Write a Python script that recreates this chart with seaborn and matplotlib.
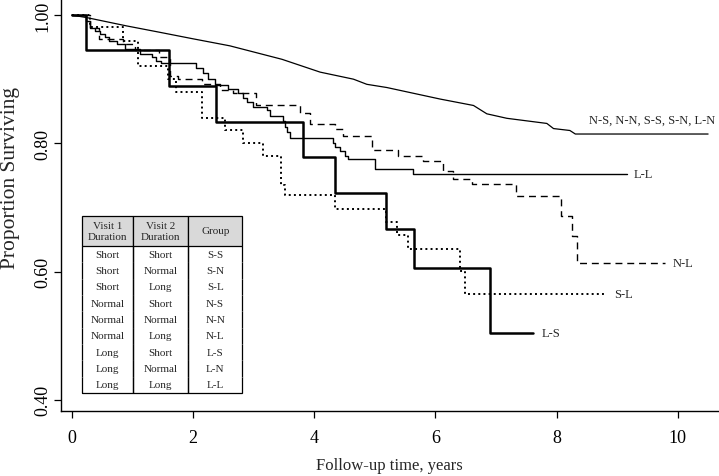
import matplotlib
matplotlib.use("Agg")
import matplotlib.pyplot as plt
import pandas as pd
import seaborn as sns

# Kaplan-Meier style survival curves
# (time in years, proportion surviving after the step at that time)
ref_t = [0, 0.25, 0.91, 1.46, 2.0, 2.61, 3.47, 4.10, 4.65, 4.87, 5.2, 6.08,
         6.63, 6.85, 7.18, 7.51, 7.84, 7.95, 8.22, 8.31, 10.5]
ref_v = [1.0, 0.996, 0.983, 0.973, 0.963, 0.952, 0.931, 0.911, 0.900, 0.892,
         0.887, 0.869, 0.859, 0.846, 0.839, 0.835, 0.831, 0.823, 0.820,
         0.8145, 0.8145]

ll_t = [0, 0.24, 0.30, 0.38, 0.47, 0.55, 0.62, 0.75, 0.88, 1.13, 1.32, 1.40,
        1.48, 2.06, 2.17, 2.25, 2.36, 2.58, 2.75, 2.83, 2.89, 3.0, 3.22,
        3.27, 3.49, 3.52, 3.55, 3.60, 4.32, 4.35, 4.43, 4.51, 4.56, 5.0,
        5.63, 9.16]
ll_v = [1.0, 0.99, 0.98, 0.975, 0.97, 0.965, 0.96, 0.955, 0.947, 0.939,
        0.934, 0.929, 0.926, 0.918, 0.91, 0.90, 0.891, 0.885, 0.879, 0.871,
        0.864, 0.857, 0.852, 0.843, 0.835, 0.825, 0.817, 0.809, 0.801,
        0.795, 0.788, 0.780, 0.776, 0.760, 0.752, 0.752]

nl_t = [0, 0.30, 0.45, 0.85, 1.05, 1.45, 1.62, 1.75, 2.15, 2.45, 2.67, 3.05,
        3.77, 3.93, 4.35, 4.48, 4.95, 5.39, 5.80, 6.13, 6.30, 6.60, 7.33,
        8.08, 8.26, 8.33, 9.79]
nl_v = [1.0, 0.98, 0.963, 0.955, 0.945, 0.935, 0.905, 0.90, 0.892, 0.883,
        0.879, 0.859, 0.848, 0.830, 0.822, 0.812, 0.789, 0.781, 0.773,
        0.757, 0.744, 0.737, 0.718, 0.687, 0.656, 0.614, 0.614]

sl_t = [0, 0.30, 0.84, 1.10, 1.59, 1.73, 2.15, 2.53, 2.83, 3.16, 3.45, 3.52,
        4.35, 5.19, 5.37, 5.55, 6.41, 6.49, 8.8]
sl_v = [1.0, 0.981, 0.96, 0.921, 0.90, 0.88, 0.84, 0.821, 0.80, 0.78, 0.735,
        0.719, 0.698, 0.678, 0.657, 0.635, 0.601, 0.565, 0.565]

ls_t = [0, 0.236, 1.60, 2.38, 3.82, 4.35, 5.19, 5.65, 6.90, 7.61]
ls_v = [1.0, 0.945, 0.889, 0.834, 0.778, 0.7225, 0.666, 0.606, 0.505, 0.505]

# end labels: (text, x, y)
end_labels = [("N-S, N-N, S-S, S-N, L-N", 8.54, 0.836),
              ("L-L", 9.28, 0.752),
              ("N-L", 9.91, 0.614),
              ("S-L", 8.95, 0.565),
              ("L-S", 7.76, 0.505)]

# group legend table
visit1 = ["Short", "Short", "Short", "Normal", "Normal", "Normal", "Long", "Long", "Long"]
visit2 = ["Short", "Normal", "Long", "Short", "Normal", "Long", "Short", "Normal", "Long"]
groups = ["S-S", "S-N", "S-L", "N-S", "N-N", "N-L", "L-S", "L-N", "L-L"]
header = ["Visit 1\nDuration", "Visit 2\nDuration", "Group"]

sns.set_style("ticks")
plt.rcParams['font.family'] = ['Liberation Serif', 'DejaVu Serif']

fig = plt.figure(figsize=(7.19, 4.77), dpi=100)
ax = fig.add_axes([0.0844, 0.1363, 0.9156, 0.8637])

sns.lineplot(x=ref_t, y=ref_v, color='black', lw=0.9, ax=ax, estimator=None)
sns.lineplot(x=ll_t, y=ll_v, color='black', lw=1.0, drawstyle='steps-post',
             ax=ax, estimator=None)
sns.lineplot(x=nl_t, y=nl_v, color='black', lw=1.0, drawstyle='steps-post',
             linestyle=(0, (5, 3.5)), ax=ax, estimator=None)
sns.lineplot(x=sl_t, y=sl_v, color='black', lw=1.4, drawstyle='steps-post',
             linestyle=':', ax=ax, estimator=None)
sns.lineplot(x=ls_t, y=ls_v, color='black', lw=1.8, drawstyle='steps-post',
             ax=ax, estimator=None)

for txt, x, y in end_labels:
    ax.text(x, y, txt, ha='left', va='center', fontsize=9)

ax.set_xlim(-0.18, 10.68)
ax.set_ylim(0.3827, 1.025)
ax.set_xticks([0, 2, 4, 6, 8, 10])
ax.set_yticks([0.4, 0.6, 0.8, 1.0])
ax.set_yticklabels(['0.40', '0.60', '0.80', '1.00'], rotation=90, va='center')
ax.tick_params(axis='both', direction='out', length=5, width=0.9,
               labelsize=13, colors='black')
ax.tick_params(axis='y', pad=2)
ax.tick_params(axis='x', pad=8)
ax.set_xlabel('Follow-up time, years', fontsize=12, labelpad=8)
ax.set_ylabel('Proportion Surviving', fontsize=15.5)
ax.yaxis.set_label_coords(-0.0615, 0.567)
for s in ['top', 'right']:
    ax.spines[s].set_visible(False)
for s in ['left', 'bottom']:
    ax.spines[s].set_linewidth(1.0)
    ax.spines[s].set_color('black')

rows = [[a, b, g] for a, b, g in zip(visit1, visit2, groups)]
tbl = ax.table(cellText=rows, colLabels=header, colWidths=[0.32, 0.345, 0.335],
               cellLoc='center', bbox=[0.0324, 0.0437, 0.243, 0.4296])
tbl.auto_set_font_size(False)
tbl.set_fontsize(8)
nrows = len(rows)
for (r, c), cell in tbl.get_celld().items():
    cell.set_linewidth(0.9)
    cell.set_edgecolor('black')
    if r == 0:
        cell.set_height(1.83)
        cell.set_facecolor('#d9d9d9')
        cell.visible_edges = 'closed'
    else:
        cell.set_height(1.0)
        cell.visible_edges = 'LRB' if r == nrows else 'LR'

fig.savefig('out.png', dpi=100)
